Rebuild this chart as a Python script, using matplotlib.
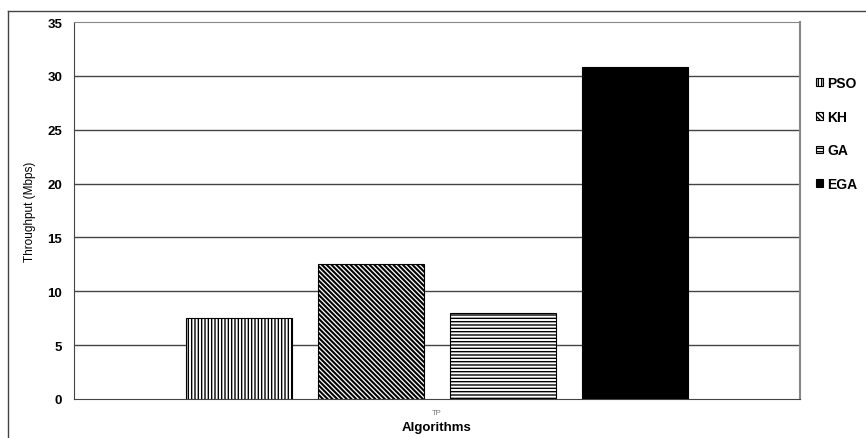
import matplotlib
matplotlib.use('Agg')
import matplotlib.pyplot as plt
from matplotlib.lines import Line2D

plt.rcParams['font.family'] = ['Liberation Sans', 'DejaVu Sans']
plt.rcParams['hatch.linewidth'] = 1.0

# data
algorithms = ['PSO', 'KH', 'GA', 'EGA']
throughput = [7.5, 12.5, 8.0, 30.8]
hatches = ['|||||', '\\' * 7, '-----', '']
faces = ['white', 'white', 'white', 'black']
yticks = [0, 5, 10, 15, 20, 25, 30, 35]
group_label = 'TP'

W, H = 866, 439
fig = plt.figure(figsize=(W / 100, H / 100), dpi=100)
ax = fig.add_axes([74 / W, 1 - 400 / H, (800 - 74) / W, (400 - 23) / H])

# bar layout inside the single "TP" group
step = 0.1818
width = 0.145
n = len(algorithms)
for i, (name, val) in enumerate(zip(algorithms, throughput)):
	x = 0.5 + (i - (n - 1) / 2) * step
	bars = ax.bar(x, val, width=width, color=faces[i], edgecolor='black',
				  hatch=hatches[i], linewidth=0.8, label=name, zorder=3)
	#the diagonal hatch looks heavier in the original
	if name == 'KH':
		for b in bars:
			if hasattr(b, 'set_hatch_linewidth'):
				b.set_hatch_linewidth(1.5)

ax.set_xlim(0, 1)
ax.set_ylim(0, 35)
ax.set_yticks(yticks)
ax.set_yticklabels([str(t) for t in yticks], fontweight='bold', fontsize=9.5)
ax.set_xticks([0.5])
ax.set_xticklabels([group_label], fontsize=5.5, color='#777777')
ax.tick_params(axis='y', length=0, pad=8.6)
ax.tick_params(axis='x', length=0, pad=7.5)

#horizontal gridlines
for t in yticks[1:-1]:
	ax.axhline(t, color='#444444', lw=1.0, zorder=1)

ax.spines['left'].set_color('#444444')
ax.spines['bottom'].set_color('#444444')
ax.spines['top'].set_color('#888888')
ax.spines['right'].set_color('#888888')
ax.spines['right'].set_linewidth(1.5)

ax.set_ylabel('Throughput (Mbps)', fontsize=8.5, labelpad=8)
ax.set_xlabel('Algorithms', fontsize=9.5, fontweight='bold', labelpad=3)

leg = ax.legend(loc='upper left', bbox_to_anchor=(816 / W, 1 - 77 / H),
				bbox_transform=fig.transFigure, frameon=False,
				handlelength=0.5, handleheight=0.5, handletextpad=0.3,
				labelspacing=1.42, borderpad=0, borderaxespad=0,
				prop={'weight': 'bold', 'size': 10})

#outer frame (only top and left edges visible)
fig.add_artist(Line2D([8 / W, 1], [1 - 12 / H, 1 - 12 / H], color='#444444', lw=1.0,
					  transform=fig.transFigure))
fig.add_artist(Line2D([8 / W, 8 / W], [0, 1 - 12 / H], color='#444444', lw=1.0,
					  transform=fig.transFigure))

fig.savefig('out.png', dpi=100, facecolor='white')
